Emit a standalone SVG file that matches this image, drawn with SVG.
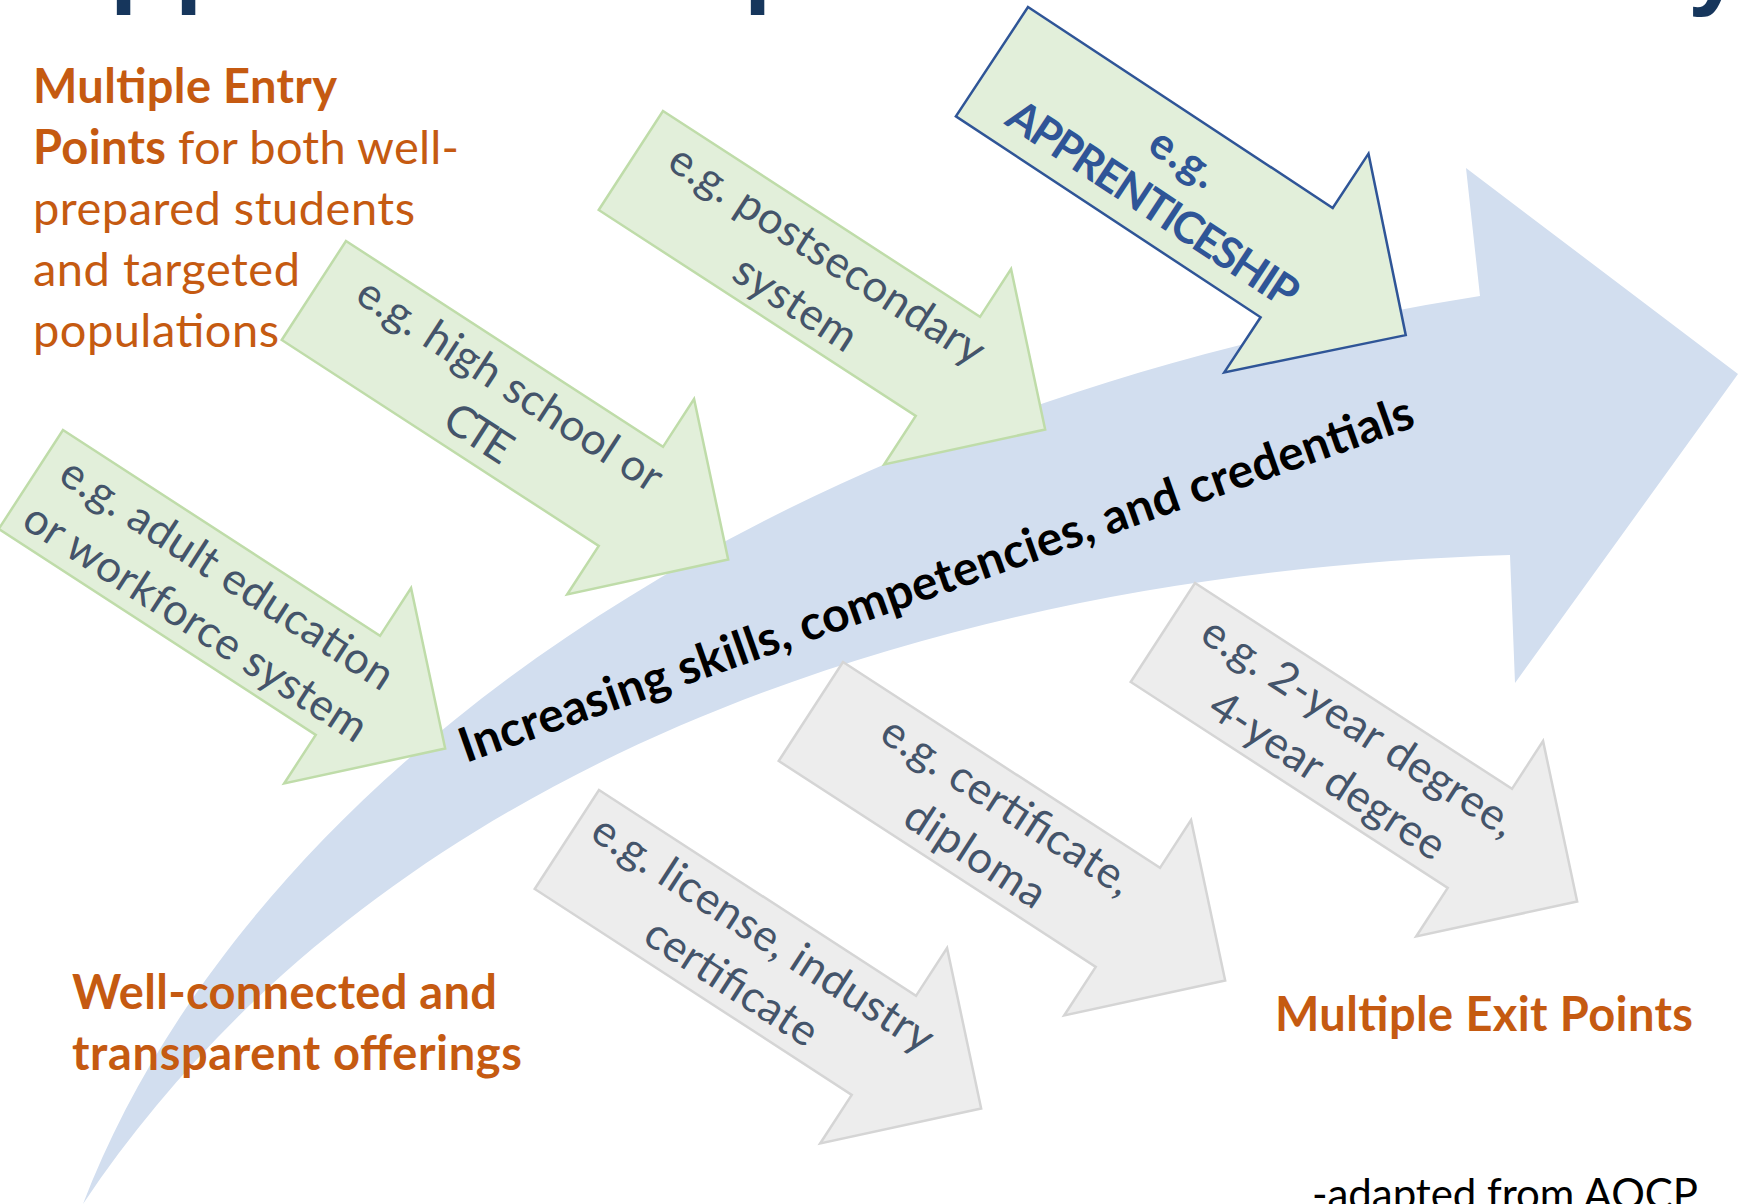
<svg xmlns="http://www.w3.org/2000/svg" xmlns:xlink="http://www.w3.org/1999/xlink" width="1739" height="1204" viewBox="0 0 1739 1204">
<style>
.g{fill:#E2EFDA;stroke:#BFDCA9;stroke-width:2.5}
.gr{fill:#EDEDED;stroke:#D5D5D5;stroke-width:2.5}
.ap{fill:#E2EFDA;stroke:#2F5597;stroke-width:2.5}
.lbl{font-family:Lato,"Open Sans",sans-serif;font-size:44px;fill:#44546A;text-anchor:middle}
.apl{font-family:Lato,"Open Sans",sans-serif;font-size:44px;font-weight:bold;fill:#2F5597;text-anchor:middle}
.or{font-family:Lato,"Open Sans",sans-serif;font-size:47px;fill:#C55A11}
.b{font-weight:bold}
.main{font-family:Lato,"Open Sans",sans-serif;font-size:48px;font-weight:bold;fill:#000000}
.foot{font-family:Lato,"Open Sans",sans-serif;font-size:42px;fill:#000000}
.ttl{font-family:"Liberation Sans",Arial,sans-serif;font-size:98px;font-weight:bold;fill:#16365C}
</style>
<defs>
<polygon id="arr" points="0,0 378,0 378,-57 494,59 378,176 378,118 0,118"/>
</defs>
<rect width="1739" height="1204" fill="#FFFFFF"/>

<g id="title-cut">
<text class="ttl" x="110" y="-5">p</text>
<text class="ttl" x="175" y="-5">p</text>
<text class="ttl" x="744" y="-5">p</text>
<text class="ttl" x="1688" y="-3">y</text>
</g>

<g id="connectors">
<g id="pathway-arrow">
<path d="M83,1204 C230,820 700,420 1480,296 L1466,168 L1738,374 L1515,683 L1510,555 C1000,570 400,730 83,1204 Z" fill="#D2DEEF"/>
</g>
</g>

<g id="entry-adult" transform="translate(63,430) rotate(33)">
<use xlink:href="#arr" class="g"/>
<text class="lbl" x="216" y="46" textLength="388">e.g. adult education</text>
<text class="lbl" x="216" y="104" textLength="400">or workforce system</text>
</g>

<g id="entry-highschool" transform="translate(346,241) rotate(33)">
<use xlink:href="#arr" class="g"/>
<text class="lbl" x="216" y="46" textLength="355">e.g. high school or</text>
<text class="lbl" x="216" y="104" textLength="72">CTE</text>
</g>

<g id="entry-postsecondary" transform="translate(663,111) rotate(33)">
<use xlink:href="#arr" class="g"/>
<text class="lbl" x="216" y="46" textLength="367">e.g. postsecondary</text>
<text class="lbl" x="216" y="104" textLength="138">system</text>
</g>

<g id="entry-apprenticeship" transform="translate(1028,7) rotate(33.4)">
<polygon class="ap" points="0,0 365,0 365,-65 496,66 365,197 365,131 0,131"/>
<text class="apl" x="213" y="55" textLength="72">e.g.</text>
<text class="apl" x="213" y="111" textLength="339">APPRENTICESHIP</text>
</g>

<g id="exit-license" transform="translate(599,790) rotate(33)">
<use xlink:href="#arr" class="gr"/>
<text class="lbl" x="216" y="46" textLength="398">e.g. license, industry</text>
<text class="lbl" x="216" y="104" textLength="197">certificate</text>
</g>

<g id="exit-certificate" transform="translate(843,662) rotate(33)">
<use xlink:href="#arr" class="gr"/>
<text class="lbl" x="216" y="46" textLength="290">e.g. certificate,</text>
<text class="lbl" x="216" y="104" textLength="159">diploma</text>
</g>

<g id="exit-degree" transform="translate(1195,583) rotate(33)">
<use xlink:href="#arr" class="gr"/>
<text class="lbl" x="216" y="46" textLength="365">e.g. 2-year degree,</text>
<text class="lbl" x="216" y="104" textLength="272">4-year degree</text>
</g>

<g id="pathway-label">
<text class="main" x="466" y="763" textLength="1009" transform="rotate(-19.5 466 763)">Increasing skills, competencies, and credentials</text>
</g>

<g id="entry-note">
<text class="or b" x="33" y="103" textLength="304">Multiple Entry</text>
<text class="or b" x="33" y="164" textLength="133">Points</text>
<text class="or" x="178" y="164" textLength="281">for both well-</text>
<text class="or" x="33" y="225" textLength="382">prepared students</text>
<text class="or" x="33" y="286" textLength="267">and targeted</text>
<text class="or" x="33" y="347" textLength="246">populations</text>
</g>

<g id="offerings-note">
<text class="or b" x="72" y="1009" textLength="425">Well-connected and</text>
<text class="or b" x="72" y="1070" textLength="450">transparent offerings</text>
</g>

<g id="exit-note">
<text class="or b" x="1275" y="1031" textLength="418">Multiple Exit Points</text>
</g>

<g id="source-note">
<text class="foot" x="1312" y="1209" textLength="386">-adapted from AQCP</text>
</g>
</svg>
